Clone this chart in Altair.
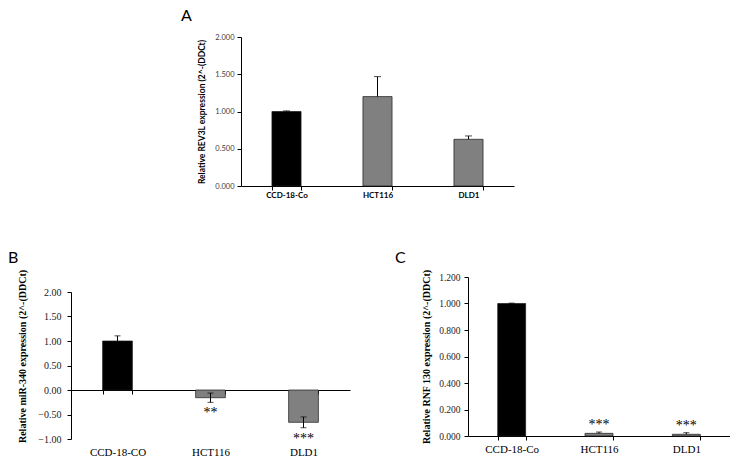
import altair as alt
import pandas as pd

SANS = "Lato"
SERIF = "Liberation Serif"

# ---------------- data ----------------
a_cats = ["CCD-18-Co", "HCT116", "DLD1"]
a_vals = [1.000, 1.200, 0.627]
a_err = [0.008, 0.268, 0.045]
a_colors = ["#000000", "#808080", "#808080"]
a_ticks = [0.0, 0.5, 1.0, 1.5, 2.0]

b_cats = ["CCD-18-CO", "HCT116", "DLD1"]
b_vals = [1.00, -0.157, -0.66]
b_err = [0.105, 0.095, 0.11]
b_colors = ["#000000", "#808080", "#808080"]
b_stars = ["", "**", "***"]
b_ticks = [-1.0, -0.5, 0.0, 0.5, 1.0, 1.5, 2.0]

c_cats = ["CCD-18-Co", "HCT116", "DLD1"]
c_vals = [1.000, 0.020, 0.013]
c_err = [0.003, 0.010, 0.012]
c_colors = ["#000000", "#808080", "#808080"]
c_stars = ["", "***", "***"]
c_ticks = [0.0, 0.2, 0.4, 0.6, 0.8, 1.0, 1.2]


def frame(cats, vals, errs, colors, stars=None):
    df = pd.DataFrame({
        "cat": cats,
        "val": vals,
        "lo": [v - e for v, e in zip(vals, errs)],
        "hi": [v + e for v, e in zip(vals, errs)],
        "color": colors,
    })
    df["star"] = stars if stars is not None else [""] * len(cats)
    return df


dfa = frame(a_cats, a_vals, a_err, a_colors)
dfb = frame(b_cats, b_vals, b_err, b_colors, b_stars)
dfc = frame(c_cats, c_vals, c_err, c_colors, c_stars)

band = alt.Scale(paddingInner=0.68, paddingOuter=0.34)

# ---------------- panel A ----------------
xa = alt.X("cat:N", sort=a_cats, title=None, scale=band,
           axis=alt.Axis(labelFont=SANS, labelFontSize=8, labelFontWeight="bold",
                         labelColor="#000000", labelAngle=0, labelPadding=1.5,
                         tickBand="extent", tickSize=4, tickColor="#000000",
                         domainColor="#000000", domainWidth=1))
ya = alt.Y("val:Q", scale=alt.Scale(domain=[0, 2], nice=False),
           axis=alt.Axis(values=a_ticks, tickCount=len(a_ticks), format=".3f",
                         grid=False, labelOverlap=False,
                         title="Relative REV3L expression (2^-(DDCt)",
                         titleFont=SANS, titleFontSize=8.5, titleFontWeight="bold",
                         titleColor="#000000", titlePadding=8,
                         labelFont=SANS, labelFontSize=7.5, labelColor="#404040",
                         labelPadding=3, tickSize=4, tickColor="#000000",
                         domainColor="#000000"))
baseA = alt.Chart(dfa)
barsA = baseA.mark_bar(stroke="#1a1a1a", strokeWidth=0.7).encode(
    x=xa, y=ya, color=alt.Color("color:N", scale=None))
ruleA = baseA.mark_rule(color="#000000", strokeWidth=1).encode(
    x=alt.X("cat:N", sort=a_cats), y="val:Q", y2="hi:Q")
capA = baseA.mark_tick(color="#000000", thickness=1, size=7).encode(
    x=alt.X("cat:N", sort=a_cats), y="hi:Q")
chartA = alt.layer(barsA, ruleA, capA).properties(
    width=273, height=149,
    title=alt.Title("A", anchor="start", frame="group", dx=-60, offset=9,
                    font=SANS, fontSize=16, fontWeight="normal", color="#000000"))

# ---------------- panel B ----------------
xb = alt.X("cat:N", sort=b_cats, title=None, scale=band,
           axis=alt.Axis(labelFont=SERIF, labelFontSize=11, labelColor="#000000",
                         labelAngle=0, labelPadding=52, offset=-49,
                         tickBand="extent", tickSize=4, tickColor="#000000",
                         domainColor="#000000", domainWidth=1))
yb = alt.Y("val:Q", scale=alt.Scale(domain=[-1, 2], nice=False, zero=False),
           axis=alt.Axis(values=b_ticks, tickCount=len(b_ticks), format=".2f",
                         grid=False, labelOverlap=False,
                         title="Relative miR-340 expression (2^-(DDCt)",
                         titleFont=SERIF, titleFontSize=10, titleFontWeight="bold",
                         titleColor="#000000", titlePadding=10, titleY=64,
                         labelFont=SERIF, labelFontSize=10, labelColor="#222222",
                         labelPadding=6, tickSize=4, tickColor="#000000",
                         domainColor="#000000"))
baseB = alt.Chart(dfb)
barsB = baseB.mark_bar(stroke="#1a1a1a", strokeWidth=0.7).encode(
    x=xb, y=yb, color=alt.Color("color:N", scale=None))
ruleB = baseB.mark_rule(color="#000000", strokeWidth=1).encode(
    x=alt.X("cat:N", sort=b_cats), y="lo:Q", y2="hi:Q")
capBhi = baseB.mark_tick(color="#000000", thickness=1, size=6).encode(
    x=alt.X("cat:N", sort=b_cats), y="hi:Q")
capBlo = baseB.mark_tick(color="#000000", thickness=1, size=6).encode(
    x=alt.X("cat:N", sort=b_cats), y="lo:Q")
starsB = baseB.mark_text(font=SERIF, fontSize=14, baseline="alphabetic", dy=15,
                         color="#000000").encode(
    x=alt.X("cat:N", sort=b_cats), y="lo:Q", text="star:N")
chartB = alt.layer(barsB, ruleB, capBhi, capBlo, starsB).properties(
    width=279, height=147,
    title=alt.Title("B", anchor="start", frame="group", dx=-63, offset=3,
                    font=SANS, fontSize=16, fontWeight="normal", color="#000000"))

# ---------------- panel C ----------------
xc = alt.X("cat:N", sort=c_cats, title=None, scale=band,
           axis=alt.Axis(labelFont=SERIF, labelFontSize=11, labelColor="#000000",
                         labelAngle=0, labelPadding=3,
                         tickBand="extent", tickSize=4, tickColor="#000000",
                         domainColor="#000000", domainWidth=1))
yc = alt.Y("val:Q", scale=alt.Scale(domain=[0, 1.2], nice=False),
           axis=alt.Axis(values=c_ticks, tickCount=len(c_ticks), format=".3f",
                         grid=False, labelOverlap=False,
                         title="Relative RNF 130 expression (2^-(DDCt)",
                         titleFont=SERIF, titleFontSize=10, titleFontWeight="bold",
                         titleColor="#000000", titlePadding=7,
                         labelFont=SERIF, labelFontSize=9.5, labelColor="#222222",
                         labelPadding=4, tickSize=4, tickColor="#000000",
                         domainColor="#000000"))
baseC = alt.Chart(dfc)
barsC = baseC.mark_bar(stroke="#1a1a1a", strokeWidth=0.7).encode(
    x=xc, y=yc, color=alt.Color("color:N", scale=None))
ruleC = baseC.mark_rule(color="#000000", strokeWidth=1).encode(
    x=alt.X("cat:N", sort=c_cats), y="val:Q", y2="hi:Q")
capC = baseC.mark_tick(color="#000000", thickness=1, size=6).encode(
    x=alt.X("cat:N", sort=c_cats), y="hi:Q")
starsC = baseC.mark_text(font=SERIF, fontSize=14, baseline="alphabetic", dy=-3,
                         color="#000000").encode(
    x=alt.X("cat:N", sort=c_cats), y="hi:Q", text="star:N")
chartC = alt.layer(barsC, ruleC, capC, starsC).properties(
    width=262, height=159,
    title=alt.Title("C", anchor="start", frame="group", dx=-73, offset=3,
                    font=SANS, fontSize=16, fontWeight="normal", color="#000000"))

# ---------------- layout ----------------
spacer_df = pd.DataFrame({"v": [0]})


def spacer(w, h):
    return alt.Chart(spacer_df).mark_point(opacity=0, size=1).encode(
        x=alt.X("v:Q", axis=None), y=alt.Y("v:Q", axis=None)
    ).properties(width=w, height=h)


top = alt.hconcat(spacer(110, 1), chartA, spacing=0)
colB = alt.vconcat(spacer(200, 1), chartB, spacing=0)
colC = alt.vconcat(spacer(200, 1), chartC, spacing=0)
bottom = alt.hconcat(colB, colC, spacing=45)

chart = alt.vconcat(top, bottom, spacing=49, padding=0).configure(
    background="#ffffff",
    view=alt.ViewConfig(stroke="transparent", strokeWidth=0),
)

chart.save("out.html", embed_options={"renderer": "svg", "actions": False})
